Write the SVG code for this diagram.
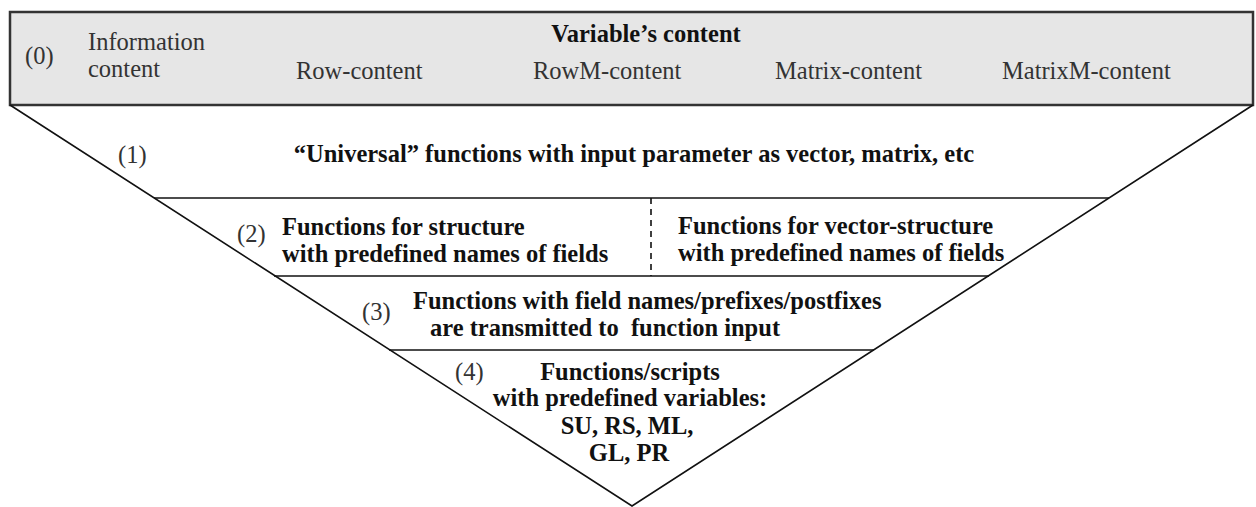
<svg xmlns="http://www.w3.org/2000/svg" width="1256" height="507" viewBox="0 0 1256 507">
<style>
.n{font-family:"Liberation Serif","Times New Roman",serif;font-size:24.5px;fill:#333}
.b{font-family:"Liberation Serif","Times New Roman",serif;font-size:24.5px;font-weight:bold;fill:#111}
.ln{stroke:#111;stroke-width:1.6;fill:none}
</style>
<rect width="1256" height="507" fill="#fff"/>
<g id="level0">
<rect x="10" y="12" width="1243" height="93" fill="#e6e6e6" stroke="#333" stroke-width="2.5"/>
<text class="n" x="25" y="64">(0)</text>
<text class="n" x="88" y="50">Information</text>
<text class="n" x="88" y="77">content</text>
<text class="b" x="646" y="42" text-anchor="middle">Variable’s content</text>
<text class="n" x="296" y="79">Row-content</text>
<text class="n" x="533" y="79">RowM-content</text>
<text class="n" x="775" y="79">Matrix-content</text>
<text class="n" x="1002" y="79">MatrixM-content</text>
</g>
<g id="connectors">
<polyline class="ln" points="10,105 632,506 1253,105"/>
<line class="ln" x1="154" y1="198" x2="1109" y2="198"/>
<line class="ln" x1="274" y1="276" x2="989" y2="276"/>
<line class="ln" x1="389" y1="350" x2="874" y2="350"/>
<line class="ln" x1="651" y1="198" x2="651" y2="276" stroke-dasharray="6,5" stroke-width="1.2"/>
</g>
<g id="level1">
<text class="n" x="118" y="163">(1)</text>
<text class="b" x="634" y="162" text-anchor="middle">“Universal” functions with input parameter as vector, matrix, etc</text>
</g>
<g id="level2a">
<text class="n" x="237" y="242">(2)</text>
<text class="b" x="282" y="235">Functions for structure</text>
<text class="b" x="282" y="262">with predefined names of fields</text>
</g>
<g id="level2b">
<text class="b" x="678" y="234">Functions for vector-structure</text>
<text class="b" x="678" y="261">with predefined names of fields</text>
</g>
<g id="level3">
<text class="n" x="362" y="320">(3)</text>
<text class="b" x="413" y="309">Functions with field names/prefixes/postfixes</text>
<text class="b" x="430" y="336" xml:space="preserve">are transmitted to  function input</text>
</g>
<g id="level4">
<text class="n" x="455" y="380">(4)</text>
<text class="b" x="630" y="380" text-anchor="middle">Functions/scripts</text>
<text class="b" x="630" y="406" text-anchor="middle">with predefined variables:</text>
<text class="b" x="627" y="434" text-anchor="middle">SU, RS, ML,</text>
<text class="b" x="629" y="461" text-anchor="middle">GL, PR</text>
</g>
</svg>
